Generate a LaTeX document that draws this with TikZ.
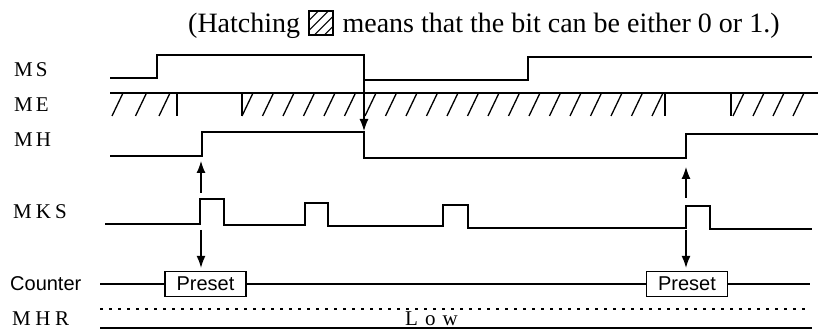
\documentclass[tikz,border=0pt]{standalone}
\usepackage{fontspec}
\setmainfont{Liberation Serif}
\newfontfamily\sansfam{Liberation Sans}
\usetikzlibrary{arrows.meta}
\begin{document}
\begin{tikzpicture}[x=1pt,y=-1pt,
  sig/.style={line width=1.3pt, line join=miter},
  hatchln/.style={line width=1.3pt},
  arr/.style={line width=1.2pt, -{Latex[length=12pt,width=9pt]}},
  lbl/.style={font=\fontsize{21}{23}\selectfont, anchor=base west, inner sep=0pt},
  toptext/.style={font=\fontsize{28}{30}\selectfont, anchor=base west, inner sep=0pt},
  presetbox/.style={draw, line width=1.3pt, minimum width=81pt, minimum height=25pt, inner sep=0pt, fill=white, font=\sansfam\fontsize{20}{22}\selectfont}]
\useasboundingbox (0,0) rectangle (823,331);

% top legend text
\node[toptext] (hat1) at (188,33) {(Hatching};
\node[draw, line width=2pt, minimum size=24pt, inner sep=0pt, anchor=south west,
  path picture={\foreach \a in {-15,-5,5,15}{
    \draw[line width=1.2pt] ([xshift=\a pt]path picture bounding box.south west) -- ([xshift=\a pt+30pt,yshift=30pt]path picture bounding box.south west);}}]
  (legbox) at ([xshift=8pt,yshift=-3pt]hat1.base east) {};
\node[toptext] (hat2) at ([xshift=8pt]legbox.east |- hat1.base) {means that the bit can be either 0 or 1.)};

% labels
\node[lbl] (ms) at (14,77) {M\kern3pt S};
\node[lbl] (me) at (14,112) {M\kern3pt E};
\node[lbl] (mh) at (14,147) {M\kern3pt H};
\node[lbl] (mks) at (13,219) {M\kern4pt K\kern4pt S};
\node[lbl, font=\sansfam\fontsize{20}{22}\selectfont] (cnt) at (10,291) {Counter};
\node[lbl] (mhr) at (12,326) {M\kern4.5pt H\kern4.5pt R};

% MS
\draw[sig] (110,78) -- (157,78) -- (157,55) -- (364,55) -- (364,80) -- (528,80) -- (528,57) -- (812,57);
% ME
\draw[sig] (110,93) -- (818,93);
\foreach \x in {177,242,665,731} \draw[hatchln] (\x,93) -- (\x,116);
\foreach \k in {0,1,2} \draw[hatchln] (112+23.5*\k,116) -- (123+23.5*\k,93);
\foreach \k in {0,...,20} \draw[hatchln] (242+20.5*\k,116) -- (253+20.5*\k,93);
\foreach \k in {0,...,3} \draw[hatchln] (733+20*\k,116) -- (744+20*\k,93);
% MH
\draw[sig] (110,156) -- (202,156) -- (202,132) -- (364,132) -- (364,158) -- (686,158) -- (686,134) -- (818,134);
% MKS
\draw[sig] (105,224) -- (200,224) -- (200,199) -- (224,199) -- (224,225) -- (305,225) -- (305,203) -- (328,203) -- (328,226)
  -- (443,226) -- (443,205) -- (468,205) -- (468,228) -- (686,228) -- (686,206) -- (710,206) -- (710,229) -- (812,229);

% arrows
\coordinate (msfall) at (364,80);
\coordinate (mhtop) at (364,131);
\draw[arr] (msfall) -- (mhtop);
\coordinate (mksup1) at (201,193);
\coordinate (mhlow1) at (201,161);
\draw[arr] (mksup1) -- (mhlow1);
\coordinate (mksup2) at (686,198);
\coordinate (mhlow2) at (686,167);
\draw[arr] (mksup2) -- (mhlow2);

% Counter
\coordinate (cstart) at (100,284);
\coordinate (cend) at (810,284);
\node[presetbox] (p1) at (205.5,284) {Preset};
\node[presetbox] (p2) at (687,284) {Preset};
\draw[sig] (cstart) -- (p1.west);
\draw[sig] (p1.east) -- (p2.west);
\draw[sig] (p2.east) -- (cend);
\coordinate (mksdn1) at (201,230);
\coordinate (mksdn2) at (686,230);
\draw[arr, shorten >=3pt] (mksdn1) -- (mksdn1 |- p1.north);
\draw[arr, shorten >=3pt] (mksdn2) -- (mksdn2 |- p2.north);

% MHR
\draw[line width=1.3pt, dash pattern=on 3pt off 6pt] (100,309) -- (805,309);
\draw[sig] (100,328) -- (812,328);
\node[lbl] (low) at (405,326) {L\kern7pt o\kern7pt w};
\end{tikzpicture}
\end{document}
